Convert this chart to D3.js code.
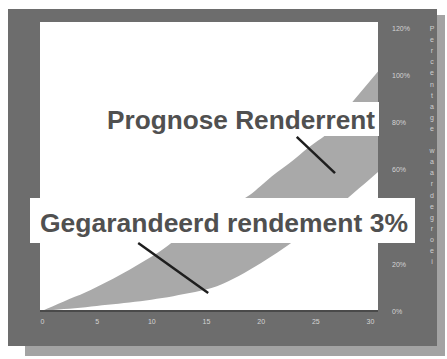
<!DOCTYPE html>
<html>
<head>
<meta charset="utf-8">
<script src="https://cdn.jsdelivr.net/npm/d3@7/dist/d3.min.js"></script>
<style>
  html, body { margin: 0; padding: 0; background: #ffffff; }
  svg { display: block; }
</style>
</head>
<body>
<script>
// ---- data ----
const years = d3.range(0, 32); // 0..31
const prognose = [0, 2, 4, 6, 8, 10.2, 12.5, 15, 17.5, 20.2, 23, 26, 29.5, 32.5, 35.5, 38.5,
                  41.5, 44, 46.5, 49.2, 53, 57, 60.5, 64, 68, 71.5, 75, 80.5, 86.5, 92, 97.5, 103];
const gegarandeerd = [0, 0.4, 0.8, 1.2, 1.6, 2.1, 2.6, 3.1, 3.6, 4.1, 4.8, 5.5, 6.3, 7.2, 8.1, 9.1,
                      10.5, 12.5, 14.8, 17.5, 20.3, 23.2, 26.3, 29.6, 33, 36.5, 40.2, 44, 48, 52, 56, 60];
const xTicks = [0, 5, 10, 15, 20, 25, 30];
const yTicks = [0, 20, 40, 60, 80, 100, 120];
const labelPrognose = "Prognose Renderrent";
const labelGegarandeerd = "Gegarandeerd rendement 3%";
const axisTitle = "Percentage waardegroei";
// leader lines in data units [year, percent]
const leaderPrognose = [[23.3, 73.8], [26.8, 58.5]];
const leaderGegarandeerd = [[8.8, 28.8], [15.2, 7.6]];

// ---- layout ----
const W = 447, H = 359;
const plot = { left: 40, right: 378, top: 22, bottom: 311 };

const svg = d3.select("body").append("svg").attr("width", W).attr("height", H);

// shadow + panel
svg.append("rect").attr("x", 25).attr("y", 15).attr("width", 420).attr("height", 341).attr("fill", "#a3a3a3");
svg.append("rect").attr("x", 8).attr("y", 9).attr("width", 429).attr("height", 337).attr("fill", "#6d6d6d");

// plot area
svg.append("rect").attr("x", plot.left).attr("y", plot.top)
  .attr("width", plot.right - plot.left).attr("height", plot.bottom - plot.top).attr("fill", "#ffffff");

const x = d3.scaleLinear().domain([0, 30]).range([42, 370]);
const y = d3.scaleLinear().domain([0, 120]).range([311, 28]);

svg.append("clipPath").attr("id", "clip").append("rect")
  .attr("x", plot.left).attr("y", plot.top)
  .attr("width", plot.right - plot.left).attr("height", plot.bottom - plot.top);

const band = years.map((yr, i) => ({ yr, hi: prognose[i], lo: gegarandeerd[i] }));
const area = d3.area()
  .x(d => x(d.yr))
  .y0(d => y(d.lo))
  .y1(d => y(d.hi))
  .curve(d3.curveMonotoneX);

svg.append("path").datum(band).attr("clip-path", "url(#clip)")
  .attr("d", area).attr("fill", "#a9a9a9");

// x axis
const xAxis = svg.append("g").attr("transform", `translate(0,${plot.bottom})`)
  .call(d3.axisBottom(x).tickValues(xTicks).tickSize(0).tickPadding(8).tickFormat(d3.format("d")));
xAxis.select(".domain").attr("d", `M${plot.left},0H${plot.right}`).attr("stroke", "#4a4a4a").attr("stroke-width", 2);
xAxis.selectAll("text").attr("fill", "#d4d4d4").style("font-family", "Liberation Sans, Arial, sans-serif").style("font-size", "7px");

// right y axis
const yAxis = svg.append("g").attr("transform", `translate(392,0)`)
  .call(d3.axisRight(y).tickValues(yTicks).tickSize(0).tickPadding(0).tickFormat(d => d + "%"));
yAxis.select(".domain").remove();
yAxis.selectAll("text").attr("fill", "#d4d4d4").style("font-family", "Liberation Sans, Arial, sans-serif").style("font-size", "7px");

// vertical stacked axis title
const t = svg.append("text").attr("fill", "#d0d0d0")
  .style("font-family", "Liberation Sans, Arial, sans-serif").style("font-size", "7px")
  .attr("text-anchor", "middle");
axisTitle.split("").forEach((ch, i) => {
  t.append("tspan").attr("x", 432).attr("y", 31 + i * 11.1).text(ch === " " ? "\u00a0" : ch);
});

// annotation boxes
svg.append("rect").attr("x", 100).attr("y", 102).attr("width", 279).attr("height", 34).attr("fill", "#ffffff");
svg.append("text").attr("x", 107).attr("y", 128.5).text(labelPrognose)
  .attr("fill", "#505050").style("font-family", "Liberation Sans, Arial, sans-serif")
  .style("font-weight", "bold").style("font-size", "26px")
  .attr("textLength", 268).attr("lengthAdjust", "spacingAndGlyphs");

svg.append("rect").attr("x", 30).attr("y", 198).attr("width", 385).attr("height", 45).attr("fill", "#ffffff");
svg.append("text").attr("x", 40).attr("y", 231.5).text(labelGegarandeerd)
  .attr("fill", "#505050").style("font-family", "Liberation Sans, Arial, sans-serif")
  .style("font-weight", "bold").style("font-size", "25px")
  .attr("textLength", 368).attr("lengthAdjust", "spacingAndGlyphs");

// leader lines
const line = d3.line().x(d => x(d[0])).y(d => y(d[1]));
[leaderPrognose, leaderGegarandeerd].forEach(pts => {
  svg.append("path").attr("d", line(pts)).attr("stroke", "#1e1e1e")
    .attr("stroke-width", 2.5).attr("fill", "none");
});
</script>
</body>
</html>
